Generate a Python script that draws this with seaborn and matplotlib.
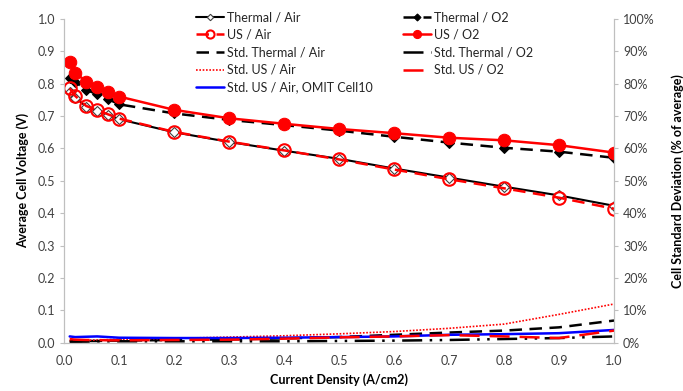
import numpy as np
import pandas as pd
import seaborn as sns
import matplotlib
matplotlib.use("Agg")
import matplotlib.pyplot as plt
from matplotlib.ticker import PercentFormatter, MultipleLocator

sns.set_style("white")
plt.rcParams['font.family'] = ['Lato', 'DejaVu Sans']

current = [0.01, 0.02, 0.04, 0.06, 0.08, 0.1, 0.2, 0.3, 0.4, 0.5, 0.6, 0.7, 0.8, 0.9, 1.0]

thermal_air = [0.775, 0.757, 0.729, 0.716, 0.703, 0.690, 0.650, 0.620, 0.593, 0.568, 0.538, 0.510, 0.482, 0.455, 0.423]
us_air = [0.785, 0.762, 0.731, 0.718, 0.705, 0.692, 0.651, 0.621, 0.594, 0.566, 0.535, 0.505, 0.477, 0.448, 0.414]
thermal_o2 = [0.817, 0.805, 0.781, 0.767, 0.752, 0.736, 0.708, 0.688, 0.672, 0.655, 0.636, 0.618, 0.602, 0.590, 0.571]
us_o2 = [0.868, 0.834, 0.806, 0.788, 0.775, 0.760, 0.719, 0.693, 0.676, 0.660, 0.647, 0.633, 0.625, 0.610, 0.587]

std_thermal_air = [0.005, 0.005, 0.006, 0.006, 0.007, 0.007, 0.009, 0.011, 0.014, 0.018, 0.025, 0.032, 0.038, 0.048, 0.069]
std_us_air = [0.006, 0.007, 0.008, 0.009, 0.010, 0.011, 0.014, 0.018, 0.022, 0.028, 0.035, 0.045, 0.058, 0.088, 0.120]
std_us_air_omit = [0.020, 0.018, 0.019, 0.020, 0.018, 0.016, 0.015, 0.015, 0.016, 0.018, 0.020, 0.025, 0.027, 0.030, 0.040]
std_thermal_o2 = [0.004, 0.004, 0.004, 0.005, 0.005, 0.005, 0.005, 0.005, 0.005, 0.006, 0.007, 0.009, 0.012, 0.015, 0.020]
std_us_o2 = [0.012, 0.010, 0.009, 0.009, 0.008, 0.008, 0.009, 0.010, 0.013, 0.017, 0.020, 0.024, 0.020, 0.015, 0.038]

fig = plt.figure(figsize=(6.83, 3.91), dpi=100)
ax = fig.add_axes([0.094, 0.123, 0.805, 0.829])
ax2 = ax.twinx()

gray = '#bfbfbf'

sns.lineplot(x=current, y=thermal_air, ax=ax, color='black', lw=1.5, marker='D', ms=5,
             markerfacecolor='white', markeredgecolor='#404040', markeredgewidth=0.8, zorder=3)
sns.lineplot(x=current, y=us_air, ax=ax, color='#ff0000', lw=1.8, marker='o', ms=9,
             markerfacecolor='none', markeredgecolor='#ff0000', markeredgewidth=1.5,
             linestyle=(0, (5, 3)), zorder=4)
sns.lineplot(x=current, y=thermal_o2, ax=ax, color='black', lw=1.8, marker='D', ms=5.5,
             markerfacecolor='black', markeredgecolor='black', linestyle=(0, (5, 3)), zorder=3)
sns.lineplot(x=current, y=us_o2, ax=ax, color='#ff0000', lw=1.8, marker='o', ms=9,
             markerfacecolor='#ff0000', markeredgecolor='#ff0000', zorder=4)

sns.lineplot(x=current, y=std_thermal_air, ax=ax2, color='black', lw=1.8, linestyle=(0, (5, 3)))
sns.lineplot(x=current, y=std_us_air, ax=ax2, color='#ff0000', lw=1.2, linestyle=(0, (1, 1)))
sns.lineplot(x=current, y=std_us_air_omit, ax=ax2, color='#0000ff', lw=1.8)
sns.lineplot(x=current, y=std_thermal_o2, ax=ax2, color='black', lw=1.8, linestyle=(0, (8, 3, 1, 3, 1, 3)))
sns.lineplot(x=current, y=std_us_o2, ax=ax2, color='#ff0000', lw=1.8, linestyle=(0, (8, 4)))

for a in (ax, ax2):
    a.set_xlim(0, 1)
    a.set_ylim(0, 1)
    for s in a.spines.values():
        s.set_color(gray)
        s.set_linewidth(0.8)
    a.spines['top'].set_visible(False)
    a.tick_params(axis='both', which='both', direction='out', length=3, color=gray,
                  labelsize=9, labelcolor='#404040', width=0.8)

ax.xaxis.set_major_locator(MultipleLocator(0.1))
ax.yaxis.set_major_locator(MultipleLocator(0.1))
ax.xaxis.set_major_formatter(plt.FormatStrFormatter('%.1f'))
ax.yaxis.set_major_formatter(plt.FormatStrFormatter('%.1f'))
ax2.yaxis.set_major_locator(MultipleLocator(0.1))
ax2.yaxis.set_major_formatter(PercentFormatter(1.0, decimals=0))
ax.tick_params(axis='x', pad=6)

ax.set_xlabel('Current Density (A/cm2)', fontsize=9, fontweight='bold', color='black', labelpad=4)
ax.set_ylabel('Average Cell Voltage (V)', fontsize=9, fontweight='bold', color='black', labelpad=6)
ax2.set_ylabel('Cell Standard Deviation (% of average)', fontsize=9, fontweight='bold', color='black', labelpad=12)

l1 = ax.get_lines()
l2 = ax2.get_lines()
handles = [l1[0], l1[1], l2[0], l2[1], l2[2], l1[2], l1[3], l2[3], l2[4]]
labels = ['Thermal / Air', 'US / Air', 'Std. Thermal / Air', 'Std. US / Air',
          'Std. US / Air, OMIT Cell10', 'Thermal / O2', 'US / O2', 'Std. Thermal / O2', 'Std. US / O2']
ax2.legend(handles, labels, ncol=2, loc='upper left', bbox_to_anchor=(196 / 683, 1 - 11 / 391),
           bbox_transform=fig.transFigure, frameon=False, fontsize=9, handlelength=2.2,
           labelspacing=0.45, columnspacing=2.4, handletextpad=0.3, markerscale=0.65,
           borderaxespad=0, borderpad=0)

fig.savefig('out.png', dpi=100)
